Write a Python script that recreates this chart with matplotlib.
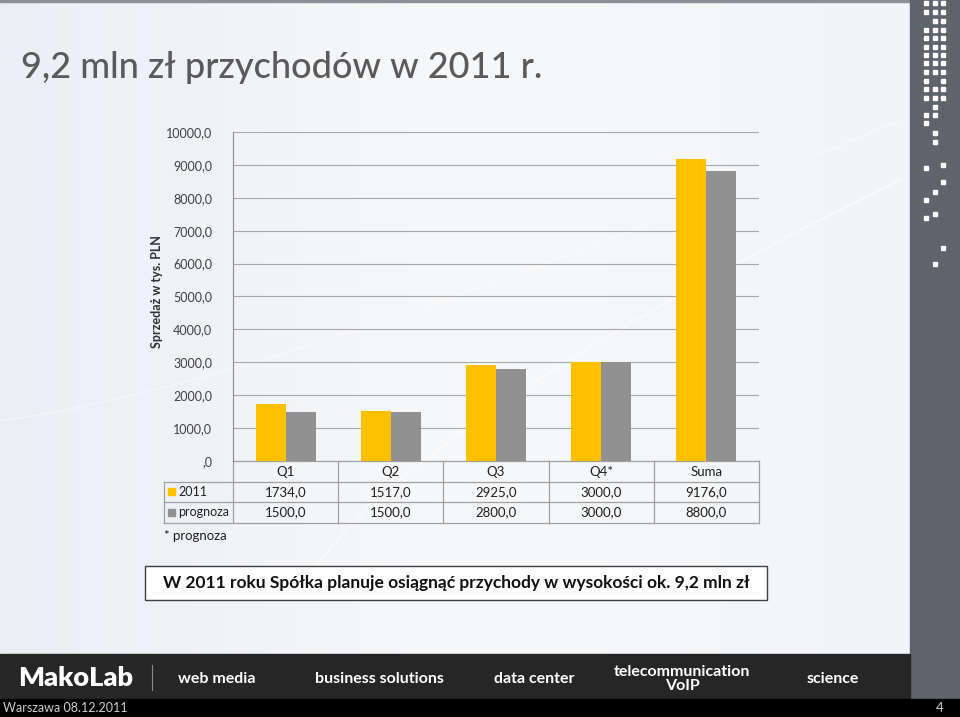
import numpy as np
import matplotlib
matplotlib.use("Agg")
import matplotlib.pyplot as plt
from matplotlib.patches import Rectangle
from matplotlib.colors import LinearSegmentedColormap

# chart data
categories = ["Q1", "Q2", "Q3", "Q4*", "Suma"]
series_names = ["2011", "prognoza"]
values_2011 = [1734.0, 1517.0, 2925.0, 3000.0, 9176.0]
values_prognoza = [1500.0, 1500.0, 2800.0, 3000.0, 8800.0]
y_ticks = [0, 1000, 2000, 3000, 4000, 5000, 6000, 7000, 8000, 9000, 10000]

title = "9,2 mln zł przychodów w 2011 r."
y_label = "Sprzedaż w tys. PLN"
footnote = "* prognoza"
callout = "W 2011 roku Spółka planuje osiągnąć przychody w wysokości ok. 9,2 mln zł"
banner_items = ["web media", "business solutions", "data center",
                "telecommunication\nVoIP", "science"]
footer_left = "Warszawa 08.12.2011"
page_no = "4"

colors = ["#FFC000", "#919191"]
FONT = ["Lato", "DejaVu Sans"]


def fmt(v):
    if v == 0:
        return ",0"
    return f"{v:.1f}".replace(".", ",")


W, H = 960, 717
fig = plt.figure(figsize=(W / 100, H / 100), dpi=100)
fig.patch.set_facecolor("#f1f4f7")

# background / decoration axes in pixel coordinates
bg = fig.add_axes([0, 0, 1, 1], zorder=0)
bg.set_xlim(0, W)
bg.set_ylim(H, 0)
bg.axis("off")

# soft gradient
grad = np.linspace(0, 1, 256).reshape(1, -1)
cmap = LinearSegmentedColormap.from_list("g", ["#ebeff3", "#f7f8fa", "#f2f5f8"])
bg.imshow(grad, extent=[0, 910, 654, 0], cmap=cmap, aspect="auto", zorder=0)
# faint swooshes
t = np.linspace(0, 1, 200)
bg.plot(300 + 600 * t, 600 - 420 * t ** 0.7, color="white", lw=1.2, alpha=0.6, zorder=1)
bg.plot(0 + 900 * t, 420 - 300 * t ** 1.3, color="white", lw=0.8, alpha=0.5, zorder=1)

bg.add_patch(Rectangle((0, 0), 910, 2, color="#8c9096", zorder=2))
bg.add_patch(Rectangle((910, 0), 50, 699, color="#5d646c", zorder=2))
bg.add_patch(Rectangle((0, 654), 910, 45, color="#262626", zorder=2))
bg.add_patch(Rectangle((0, 699), 960, 18, color="#000000", zorder=2))

# sidebar dot pattern
dot_cols = [926, 935, 943]
dot_rows = [(3, "xxx"), (12, "xxx"), (21, ".xx"), (30, "xxx"), (38, "xxx"),
            (47, "xxx"), (55, "xxx"), (63, "xxx"), (72, "xxx"), (81, "x.x"),
            (89, "xxx"), (98, "xxx"), (107, ".x."), (115, "xx."), (123, "x.."),
            (133, ".x."), (142, ".x."), (165, "..x"), (168, "x.."), (182, "..x"),
            (192, ".x."), (200, "x.."), (214, ".x."), (218, "x.."), (248, "..x"),
            (264, ".x.")]
for yy, pat in dot_rows:
    for cx, c in zip(dot_cols, pat):
        if c == "x":
            bg.add_patch(Rectangle((cx - 2, yy - 2), 4, 4, color="white", zorder=3))

# title
bg.text(21, 68, title, fontsize=26, color="#5a5a5a", va="center", ha="left",
        family=FONT, fontweight="medium", zorder=4)

# chart axes
left, right, top, bottom = 233, 759, 132, 461
ax = fig.add_axes([left / W, 1 - bottom / H, (right - left) / W, (bottom - top) / H], zorder=1)
ax.patch.set_alpha(0)
x = np.arange(len(categories))
w = 0.286
ax.bar(x - w / 2, values_2011, w, color=colors[0], zorder=3)
ax.bar(x + w / 2, values_prognoza, w, color=colors[1], zorder=3)
ax.set_xlim(-0.5, len(categories) - 0.5)
ax.set_ylim(0, 10000)
ax.set_yticks(y_ticks)
ax.set_yticklabels([fmt(v) for v in y_ticks], family=FONT)
ax.set_xticks([])
ax.yaxis.grid(True, color="#a8a8a8", lw=0.8)
ax.set_axisbelow(True)
for s in ["top", "right", "bottom"]:
    ax.spines[s].set_visible(False)
ax.spines["left"].set_color("#8a8a8a")
ax.tick_params(axis="y", length=0, pad=15, labelsize=9, labelcolor="#404040")

bg.text(157, 292, y_label, rotation=90, fontsize=9, fontweight="bold", color="#303030",
        ha="center", va="center", family=FONT, zorder=4)

# data table under the chart
ncol = len(categories)
cw = (right - left) / ncol
edges = [left + i * cw for i in range(ncol + 1)]
rows_y = [461, 482, 502, 523]
legend_left = 164
lc = "#a0a0a0"
bg.plot([left, right], [rows_y[0], rows_y[0]], color=lc, lw=0.9, zorder=4)
for ry in rows_y[1:]:
    bg.plot([legend_left, right], [ry, ry], color=lc, lw=0.9, zorder=4)
bg.plot([legend_left, legend_left], [rows_y[1], rows_y[3]], color=lc, lw=0.9, zorder=4)
for ex in edges:
    bg.plot([ex, ex], [rows_y[0], rows_y[3]], color=lc, lw=0.9, zorder=4)

tkw = dict(fontsize=9.5, color="#202020", ha="center", va="center", family=FONT, zorder=5)
for i, cat in enumerate(categories):
    cx = (edges[i] + edges[i + 1]) / 2
    bg.text(cx, (rows_y[0] + rows_y[1]) / 2, cat, **tkw)
    bg.text(cx, (rows_y[1] + rows_y[2]) / 2, fmt(values_2011[i]), **tkw)
    bg.text(cx, (rows_y[2] + rows_y[3]) / 2, fmt(values_prognoza[i]), **tkw)
for j, name in enumerate(series_names):
    cy = (rows_y[j + 1] + rows_y[j + 2]) / 2
    bg.add_patch(Rectangle((168, cy - 4), 7, 7, color=colors[j], zorder=5))
    bg.text(178, cy, name, fontsize=9, color="#202020", ha="left", va="center",
            family=FONT, zorder=5)

bg.text(164, 536, footnote, fontsize=9.5, color="#202020", ha="left", va="center",
        family=FONT, zorder=5)

# callout box
bg.add_patch(Rectangle((145, 566), 622, 34, facecolor="white", edgecolor="#404040",
                       lw=1, zorder=4))
bg.text(456, 583, callout, fontsize=12.5, fontweight="bold", color="#111111",
        ha="center", va="center", family=FONT, zorder=5)

# banner
bg.text(18, 678, "MakoLab", fontsize=19.5, fontweight="heavy", color="white",
        ha="left", va="center", family=FONT, zorder=5)
bg.plot([152, 152], [665, 690], color="#8a8a8a", lw=0.8, zorder=5)
banner_x = [217, 379, 534, 682, 833]
for bx, item in zip(banner_x, banner_items):
    bg.text(bx, 679, item, fontsize=11.5, fontweight="bold", color="white", ha="center",
            va="center", family=FONT, linespacing=1.0, zorder=5)

bg.text(3, 708.5, footer_left, fontsize=9, color="#cfcfcf", ha="left", va="center",
        family=FONT, zorder=5)
bg.text(940, 708.5, page_no, fontsize=9.5, color="#cfcfcf", ha="center", va="center",
        family=FONT, zorder=5)

fig.savefig("out.png", dpi=100, facecolor=fig.get_facecolor())
